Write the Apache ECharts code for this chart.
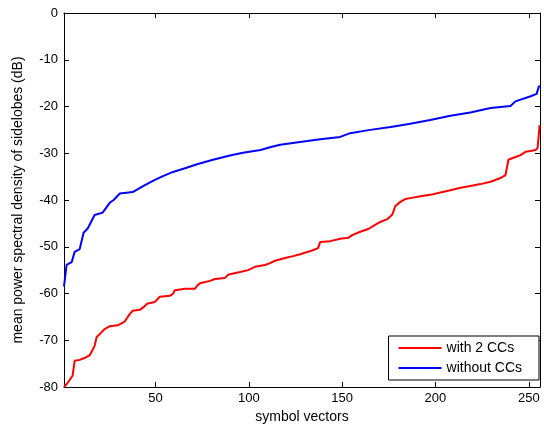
<!DOCTYPE html>
<html>
<head>
<meta charset="utf-8">
<script src="https://cdn.jsdelivr.net/npm/echarts@6/dist/echarts.min.js"></script>
<style>
  html, body { margin: 0; padding: 0; background: #fff; }
  #chart { width: 544px; height: 429px; }
</style>
</head>
<body>
<div id="chart"></div>
<script>
const xTicks = [50, 100, 150, 200, 250]
const yTicks = [-80, -70, -60, -50, -40, -30, -20, -10, 0]

// [symbol vector index, dB]
const withCCs = [
  [1, -80], [3, -79.1], [4, -78.9], [5.6, -77.6], [6.7, -74.4], [9.4, -74.2],
  [12, -73.8], [14.8, -73.2], [15.8, -73], [17.4, -71.2], [18.5, -69.3],
  [20.1, -68.7], [22.8, -67.6], [25.5, -67], [29.8, -66.8], [33.5, -66],
  [36.2, -64.4], [37.8, -63.7], [41.6, -63.5], [44.3, -62.7], [45.4, -62.2],
  [49.7, -61.8], [52.3, -60.7], [57.7, -60.5], [59.3, -60.1], [60.4, -59.3],
  [65.8, -59], [71.1, -59], [72.2, -58.4], [73.8, -57.8], [79.2, -57.3],
  [81.9, -56.9], [87.2, -56.7], [88.8, -56], [95.3, -55.4], [99.6, -55],
  [103.3, -54.3], [108.7, -53.9], [111.4, -53.5], [114.1, -53], [119.4, -52.4],
  [123.7, -52], [127.5, -51.6], [133.9, -50.8], [137.1, -50.3], [138.2, -49],
  [143.6, -48.8], [149, -48.3], [153.2, -48.1], [155.4, -47.5], [159.7, -46.8],
  [164, -46.2], [167.7, -45.3], [170.4, -44.7], [174.2, -44.1], [176.9, -43.1],
  [178.5, -41.3], [181.2, -40.4], [183.8, -39.8], [186.5, -39.6], [191.9, -39.2],
  [197.2, -38.9], [202.6, -38.4], [208, -37.9], [213.4, -37.4], [218.7, -37],
  [224.1, -36.6], [229.5, -36.1], [234.8, -35.3], [237.5, -34.7], [239.1, -31.4],
  [242.9, -30.8], [245.6, -30.4], [248.2, -29.7], [250.9, -29.5], [253.6, -29.3],
  [254.7, -28.9], [255.8, -24], [256, -24]
]
const withoutCCs = [
  [1, -58.5], [2.4, -53.9], [5.1, -53.3], [6.7, -51.1], [9.4, -50.5],
  [11.5, -47], [13.7, -46.1], [17.4, -43.2], [21.7, -42.7], [25.5, -40.6],
  [27.6, -40], [30.9, -38.6], [37.8, -38.3], [44.3, -36.8], [49.7, -35.7],
  [54, -34.9], [59.4, -34], [65.8, -33.2], [72.7, -32.3], [80.8, -31.4],
  [89.9, -30.5], [96.9, -29.9], [106.3, -29.3], [111.4, -28.7], [116.8, -28.2],
  [127.5, -27.6], [138.2, -27], [149, -26.5], [154.3, -25.7], [165, -25],
  [176, -24.4], [186.5, -23.7], [197.2, -22.9], [208, -22], [218.7, -21.3],
  [229.5, -20.3], [240.2, -19.9], [242.8, -18.9], [251, -17.8], [254.2, -17.3],
  [255.3, -15.8], [256, -15.6]
]

const font = 'Liberation Sans, Arial, sans-serif'
const chart = echarts.init(document.getElementById('chart'))

const tickStyle = { inside: true, length: 5, lineStyle: { color: '#000', width: 1 } }

chart.setOption({
  animation: false,
  backgroundColor: '#fff',
  grid: { left: 64, right: 4, top: 13, bottom: 42 },
  legend: {
    orient: 'vertical',
    right: 5,
    bottom: 49,
    backgroundColor: '#fff',
    borderColor: '#000',
    borderWidth: 1,
    borderRadius: 0,
    padding: [5, 17, 5, 10],
    itemGap: 6,
    itemWidth: 43,
    itemHeight: 2,
    icon: 'rect',
    textStyle: { fontFamily: font, fontSize: 14, color: '#000' },
    data: ['with 2 CCs', 'without CCs']
  },
  xAxis: [
    {
      type: 'value',
      min: 1,
      max: 256,
      name: 'symbol vectors',
      nameLocation: 'middle',
      nameGap: 22,
      nameTextStyle: { fontFamily: font, fontSize: 14, color: '#000' },
      axisLine: { onZero: false, lineStyle: { color: '#000', width: 1 } },
      axisTick: Object.assign({ customValues: xTicks }, tickStyle),
      axisLabel: { customValues: xTicks, fontFamily: font, fontSize: 13, color: '#000', margin: 5 },
      splitLine: { show: false }
    },
    {
      type: 'value',
      position: 'top',
      min: 1,
      max: 256,
      axisLine: { onZero: false, lineStyle: { color: '#000', width: 1 } },
      axisTick: Object.assign({ customValues: xTicks }, tickStyle),
      axisLabel: { show: false },
      splitLine: { show: false }
    }
  ],
  yAxis: [
    {
      type: 'value',
      min: -80,
      max: 0,
      name: 'mean power spectral density of sidelobes (dB)',
      nameLocation: 'middle',
      nameGap: 39,
      nameTextStyle: { fontFamily: font, fontSize: 14, color: '#000' },
      axisLine: { show: true, onZero: false, lineStyle: { color: '#000', width: 1 } },
      axisTick: Object.assign({ customValues: yTicks }, tickStyle),
      axisLabel: { customValues: yTicks, fontFamily: font, fontSize: 13, color: '#000', margin: 6 },
      splitLine: { show: false }
    },
    {
      type: 'value',
      position: 'right',
      min: -80,
      max: 0,
      axisLine: { show: true, onZero: false, lineStyle: { color: '#000', width: 1 } },
      axisTick: Object.assign({ customValues: yTicks }, tickStyle),
      axisLabel: { show: false },
      splitLine: { show: false }
    }
  ],
  series: [
    {
      name: 'with 2 CCs',
      type: 'line',
      data: withCCs,
      showSymbol: false,
      symbol: 'none',
      color: '#ff0000',
      lineStyle: { color: '#ff0000', width: 2 }
    },
    {
      name: 'without CCs',
      type: 'line',
      data: withoutCCs,
      showSymbol: false,
      symbol: 'none',
      color: '#0000ff',
      lineStyle: { color: '#0000ff', width: 2 }
    }
  ]
})
</script>
</body>
</html>
